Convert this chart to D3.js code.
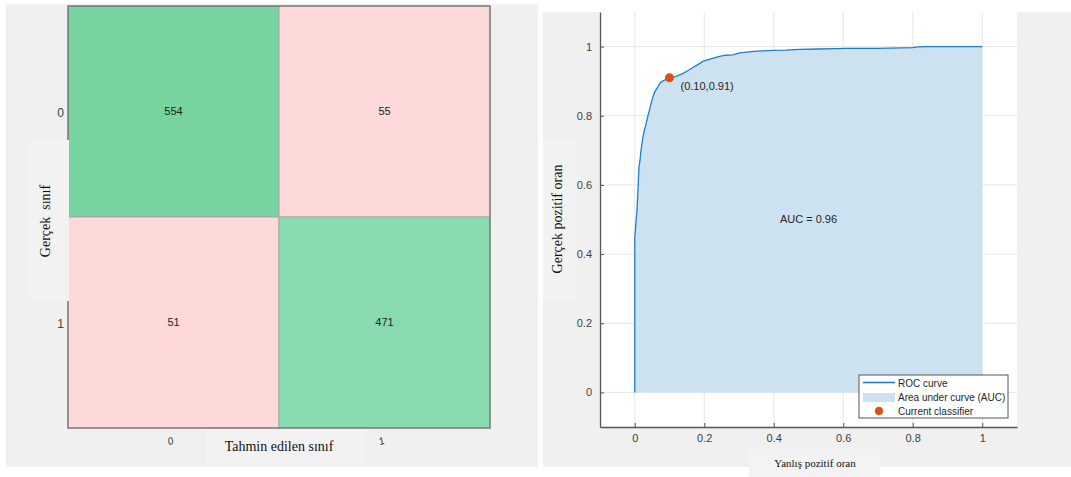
<!DOCTYPE html>
<html>
<head>
<meta charset="utf-8">
<script src="https://cdn.jsdelivr.net/npm/d3@7"></script>
<style>
  html, body { margin: 0; padding: 0; background: #ffffff; }
  svg { display: block; }
</style>
</head>
<body>
<svg id="chart" width="1071" height="477"></svg>
<script>
// ---------- DATA ----------
const matrixRows = ["0", "1"];          // true class
const matrixCols = ["0", "1"];          // predicted class
const counts = [[554, 55], [51, 471]];

const fpr = [0, 0, 0.002, 0.004, 0.006, 0.009, 0.012, 0.015, 0.018, 0.023,
             0.028, 0.033, 0.038, 0.042, 0.047, 0.052, 0.058, 0.066, 0.073, 0.080,
             0.090, 0.100, 0.112, 0.124, 0.138, 0.152, 0.165, 0.177, 0.196, 0.216,
             0.244, 0.262, 0.282, 0.302, 0.35, 0.40, 0.436, 0.474, 0.53, 0.58,
             0.608, 0.70, 0.766, 0.80, 0.813, 0.838, 0.90, 0.95, 0.991, 1.0];
const tpr = [0, 0.45, 0.47, 0.50, 0.52, 0.58, 0.65, 0.67, 0.70, 0.735,
             0.76, 0.778, 0.80, 0.815, 0.835, 0.854, 0.87, 0.883, 0.895, 0.90,
             0.905, 0.91, 0.912, 0.916, 0.922, 0.93, 0.938, 0.945, 0.957, 0.964,
             0.972, 0.975, 0.976, 0.982, 0.987, 0.989, 0.990, 0.992, 0.993, 0.994,
             0.995, 0.995, 0.996, 0.997, 0.999, 1.0, 1.0, 1.0, 1.0, 1.0];
const classifierPoint = [0.10, 0.91];
const aucValue = 0.96;
const rocTicks = [0, 0.2, 0.4, 0.6, 0.8, 1];
const legendLabels = ["ROC curve", "Area under curve (AUC)", "Current classifier"];

// ---------- SETUP ----------
const svg = d3.select("#chart");
const sans = "'Liberation Sans', Arial, Helvetica, sans-serif";
const serif = "'Liberation Serif', 'Times New Roman', serif";

// ===== LEFT PANEL: confusion matrix =====
const L = svg.append("g");
L.append("rect").attr("x", 6).attr("y", 4).attr("width", 532).attr("height", 463).attr("fill", "#f0f0f0");

const xb = d3.scaleBand().domain(matrixCols).range([68, 490]);
const yb = d3.scaleBand().domain(matrixRows).range([6, 428]);
const diagMin = d3.min(matrixRows, (r, i) => counts[i][i]);
const diagMax = d3.max(matrixRows, (r, i) => counts[i][i]);
const green = d3.scaleLinear().domain([diagMin, diagMax]).range(["#88dbae", "#77d4a0"]);

const cells = [];
matrixRows.forEach((r, i) => matrixCols.forEach((c, j) => cells.push({ r, c, v: counts[i][j], diag: i === j })));

L.selectAll("rect.cell").data(cells).join("rect")
  .attr("class", "cell")
  .attr("x", d => xb(d.c)).attr("y", d => yb(d.r))
  .attr("width", xb.bandwidth()).attr("height", yb.bandwidth())
  .attr("fill", d => d.diag ? green(d.v) : "#fdd9d9")
  .attr("stroke", "#a8a8a8").attr("stroke-width", 1);

L.append("rect").attr("x", 68).attr("y", 6).attr("width", 422).attr("height", 422)
  .attr("fill", "none").attr("stroke", "#6e6e6e").attr("stroke-width", 1.2);

L.selectAll("text.cv").data(cells).join("text")
  .attr("class", "cv")
  .attr("x", d => xb(d.c) + xb.bandwidth() / 2)
  .attr("y", d => yb(d.r) + yb.bandwidth() / 2)
  .attr("dy", "0.35em").attr("text-anchor", "middle")
  .attr("font-family", sans).attr("font-size", 11).attr("fill", "#222")
  .text(d => d.v);

// row tick labels
L.selectAll("text.rl").data(matrixRows).join("text")
  .attr("class", "rl")
  .attr("x", 64).attr("y", d => yb(d) + yb.bandwidth() / 2 + 1)
  .attr("dy", "0.35em").attr("text-anchor", "end")
  .attr("font-family", sans).attr("font-size", 12).attr("fill", "#404040")
  .text(d => d);

// column tick labels (slanted)
L.selectAll("text.cl").data(matrixCols).join("text")
  .attr("class", "cl")
  .attr("transform", d => `translate(${xb(d) + xb.bandwidth() / 2 - 3},441) rotate(-20)`)
  .attr("dy", "0.35em").attr("text-anchor", "middle")
  .attr("font-family", sans).attr("font-size", 10).attr("font-style", "italic").attr("fill", "#333")
  .text(d => d);

// y label box & text
L.append("rect").attr("x", 27).attr("y", 140).attr("width", 42).attr("height", 161).attr("fill", "#f2f2f2");
L.append("text")
  .attr("transform", "translate(50,221) rotate(-90)")
  .attr("text-anchor", "middle")
  .attr("font-family", serif).attr("font-size", 14).attr("fill", "#111")
  .attr("xml:space", "preserve")
  .text("Gerçek  sınıf");

// x label box & text
L.append("rect").attr("x", 205).attr("y", 429).attr("width", 160).attr("height", 38).attr("fill", "#f2f2f2");
L.append("text")
  .attr("x", 279).attr("y", 451)
  .attr("text-anchor", "middle")
  .attr("font-family", serif).attr("font-size", 14).attr("fill", "#111")
  .text("Tahmin edilen sınıf");

// ===== RIGHT PANEL: ROC curve =====
const R = svg.append("g");
R.append("rect").attr("x", 543).attr("y", 12).attr("width", 528).attr("height", 455).attr("fill", "#f0f0f0");

const x = d3.scaleLinear().domain([-0.1, 1.1]).range([600, 1017]);
const y = d3.scaleLinear().domain([-0.1, 1.1]).range([427, 12]);

// label boxes (drawn beneath the axes)
R.append("rect").attr("x", 543).attr("y", 139).attr("width", 35).attr("height", 162).attr("fill", "#f2f2f2");
R.append("rect").attr("x", 749).attr("y", 449).attr("width", 131).attr("height", 28).attr("fill", "#f3f3f3");

// white plot area (extends to top of page, like the reference)
R.append("rect").attr("x", x.range()[0]).attr("y", 0)
  .attr("width", x.range()[1] - x.range()[0]).attr("height", y.range()[0]).attr("fill", "#ffffff");

// grid
R.selectAll("line.gx").data(rocTicks).join("line")
  .attr("class", "gx")
  .attr("x1", d => x(d)).attr("x2", d => x(d))
  .attr("y1", y.range()[1]).attr("y2", y.range()[0])
  .attr("stroke", "#e6e6e6").attr("stroke-width", 1);
R.selectAll("line.gy").data(rocTicks).join("line")
  .attr("class", "gy")
  .attr("y1", d => y(d)).attr("y2", d => y(d))
  .attr("x1", x.range()[0]).attr("x2", x.range()[1])
  .attr("stroke", "#e6e6e6").attr("stroke-width", 1);

const rocData = fpr.map((f, i) => [f, tpr[i]]);

// area
R.append("path").datum(rocData)
  .attr("d", d3.area().x(d => x(d[0])).y0(y(0)).y1(d => y(d[1])))
  .attr("fill", "#cce2f0");

// curve
R.append("path").datum(rocData)
  .attr("d", d3.line().x(d => x(d[0])).y(d => y(d[1])))
  .attr("fill", "none").attr("stroke", "#1f7fc4").attr("stroke-width", 1.3);

// classifier point
R.append("circle").attr("cx", x(classifierPoint[0])).attr("cy", y(classifierPoint[1]))
  .attr("r", 4.5).attr("fill", "#d95319");
R.append("text")
  .attr("x", x(classifierPoint[0]) + 11).attr("y", y(classifierPoint[1]) + 12)
  .attr("font-family", sans).attr("font-size", 11).attr("fill", "#262626")
  .text(`(${classifierPoint[0].toFixed(2)},${classifierPoint[1].toFixed(2)})`);

// AUC text
R.append("text")
  .attr("x", x(0.5)).attr("y", y(0.5))
  .attr("dy", "0.35em").attr("text-anchor", "middle")
  .attr("font-family", sans).attr("font-size", 11).attr("fill", "#262626")
  .text(`AUC = ${aucValue.toFixed(2)}`);

// axes
const fmt = d => String(+d.toFixed(1));
const ax = R.append("g").attr("transform", `translate(0,${y.range()[0]})`)
  .call(d3.axisBottom(x).tickValues(rocTicks).tickFormat(fmt).tickSizeInner(-4).tickSizeOuter(0).tickPadding(7));
const ay = R.append("g").attr("transform", `translate(${x.range()[0]},0)`)
  .call(d3.axisLeft(y).tickValues(rocTicks).tickFormat(fmt).tickSizeInner(-4).tickSizeOuter(0).tickPadding(8));
[ax, ay].forEach(g => {
  g.select(".domain").attr("stroke", "#555").attr("stroke-width", 1.3);
  g.selectAll(".tick line").attr("stroke", "#555");
  g.selectAll(".tick text").attr("font-family", sans).attr("font-size", 11).attr("fill", "#404040");
});

// legend
const lg = R.append("g");
lg.append("rect").attr("x", 859).attr("y", 375).attr("width", 149).attr("height", 43)
  .attr("fill", "#ffffff").attr("stroke", "#555").attr("stroke-width", 1);
lg.append("line").attr("x1", 863).attr("x2", 895).attr("y1", 382.5).attr("y2", 382.5)
  .attr("stroke", "#1f7fc4").attr("stroke-width", 1.6);
lg.append("rect").attr("x", 863).attr("y", 393).attr("width", 32).attr("height", 9).attr("fill", "#cce2f0");
lg.append("circle").attr("cx", 879).attr("cy", 411).attr("r", 4.2).attr("fill", "#d95319");
lg.selectAll("text").data(legendLabels).join("text")
  .attr("x", 898).attr("y", (d, i) => 383 + i * 14)
  .attr("dy", "0.35em")
  .attr("font-family", sans).attr("font-size", 10).attr("fill", "#262626")
  .text(d => d);

// axis titles
R.append("text")
  .attr("transform", "translate(562,219) rotate(-90)")
  .attr("text-anchor", "middle")
  .attr("font-family", serif).attr("font-size", 14).attr("fill", "#111")
  .text("Gerçek pozitif oran");
R.append("text")
  .attr("x", 815).attr("y", 467)
  .attr("text-anchor", "middle")
  .attr("font-family", serif).attr("font-size", 11).attr("fill", "#111")
  .text("Yanlış pozitif oran");
</script>
</body>
</html>
